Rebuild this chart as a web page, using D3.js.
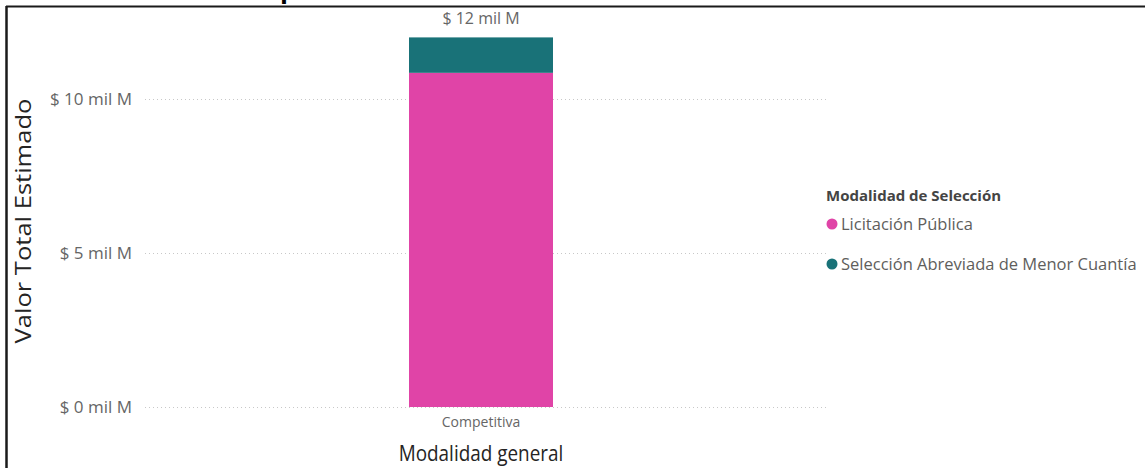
<!DOCTYPE html>
<html><head><meta charset="utf-8">
<script src="https://cdn.jsdelivr.net/npm/d3@7"></script>
<style>body{margin:0;background:#fff;} svg{display:block;}</style>
</head><body>
<svg id="c" width="1145" height="468"></svg>
<script>
const categories = ["Competitiva"];
const seriesNames = ["Licitación Pública", "Selección Abreviada de Menor Cuantía"];
const licitacion = [10.85];
const abreviada = [1.15];
const yTicks = [0, 5, 10];
const seriesColors = ["#E044A7", "#197278"];

const svg = d3.select("#c");
const font = "'Open Sans', 'Noto Sans', sans-serif";

function squeeze(sel, f) {
  sel.each(function(){
    const w = this.getComputedTextLength();
    d3.select(this).attr("textLength", w*f).attr("lengthAdjust","spacingAndGlyphs");
  });
}

// frame
svg.append("line").attr("x1",6).attr("x2",1145).attr("y1",6.5).attr("y2",6.5).attr("stroke","#1a1a1a").attr("stroke-width",2);
svg.append("line").attr("x1",6.5).attr("x2",6.5).attr("y1",6).attr("y2",468).attr("stroke","#1a1a1a").attr("stroke-width",2.5);
svg.append("text").attr("x",280).attr("y",-2).attr("font-family",font).attr("font-weight",700).attr("font-size",26).attr("fill","#000").text("p");

const y = d3.scaleLinear().domain([0, 10]).range([407, 99]);
const x = d3.scaleBand().domain(categories).range([409, 553]).padding(0);

// gridlines
svg.append("g").selectAll("line").data(yTicks).join("line")
  .attr("x1",145).attr("x2",828).attr("y1",d=>y(d)+0.5).attr("y2",d=>y(d)+0.5)
  .attr("stroke","#c8c8c8").attr("stroke-width",1).attr("stroke-dasharray","1,3");

// y axis labels
const yAxis = d3.axisLeft(y).tickValues(yTicks).tickSize(0).tickPadding(0).tickFormat(d=>`$ ${d} mil M`);
const gy = svg.append("g").attr("transform","translate(132,0)").call(yAxis);
gy.select(".domain").remove();
gy.selectAll("text").attr("font-family",font).attr("font-size",17).attr("fill","#666");

// stacked bars
const stackData = categories.map((c,i)=>({cat:c, a:licitacion[i], b:abreviada[i]}));
const stack = d3.stack().keys(["a","b"])(stackData);
svg.append("g").selectAll("g").data(stack).join("g").attr("fill",(d,i)=>seriesColors[i])
  .selectAll("rect").data(d=>d).join("rect")
  .attr("x",d=>x(d.data.cat)).attr("width",x.bandwidth())
  .attr("y",d=>y(d[1])).attr("height",d=>y(d[0])-y(d[1]));

// total label
svg.append("g").selectAll("text").data(stackData).join("text")
  .attr("x",d=>x(d.cat)+x.bandwidth()/2).attr("y",d=>y(d.a+d.b)-13)
  .attr("text-anchor","middle").attr("font-family",font).attr("font-size",16).attr("fill","#666")
  .text(d=>`$ ${Math.round(d.a+d.b)} mil M`);

// x axis
const xAxis = d3.axisBottom(x).tickSize(0).tickPadding(0);
const gx = svg.append("g").attr("transform","translate(0,423)").call(xAxis);
gx.select(".domain").remove();
gx.selectAll("text").attr("font-family",font).attr("font-size",14).attr("fill","#666").attr("dy","0.32em");

// axis titles
const xt = svg.append("text").attr("x",481).attr("y",461).attr("text-anchor","middle").attr("font-family",font)
  .attr("font-size",21).attr("fill","#252423").text("Modalidad general");
squeeze(xt, 0.9);
svg.append("text").attr("transform","translate(31,221) rotate(-90)").attr("text-anchor","middle").attr("font-family",font)
  .attr("font-size",22).attr("fill","#252423").attr("textLength",245).attr("lengthAdjust","spacingAndGlyphs")
  .text("Valor Total Estimado");

// legend
svg.append("text").attr("x",826).attr("y",201).attr("font-family",font).attr("font-weight",700)
  .attr("font-size",15).attr("fill","#444").text("Modalidad de Selección");
const leg = svg.append("g").selectAll("g").data(seriesNames).join("g")
  .attr("transform",(d,i)=>`translate(832,${224+i*40})`);
leg.append("circle").attr("r",5.5).attr("fill",(d,i)=>seriesColors[i]);
leg.append("text").attr("x",9).attr("dy","0.35em").attr("font-family",font).attr("font-size",16.5).attr("fill","#605E5C").text(d=>d);
</script>
</body></html>
